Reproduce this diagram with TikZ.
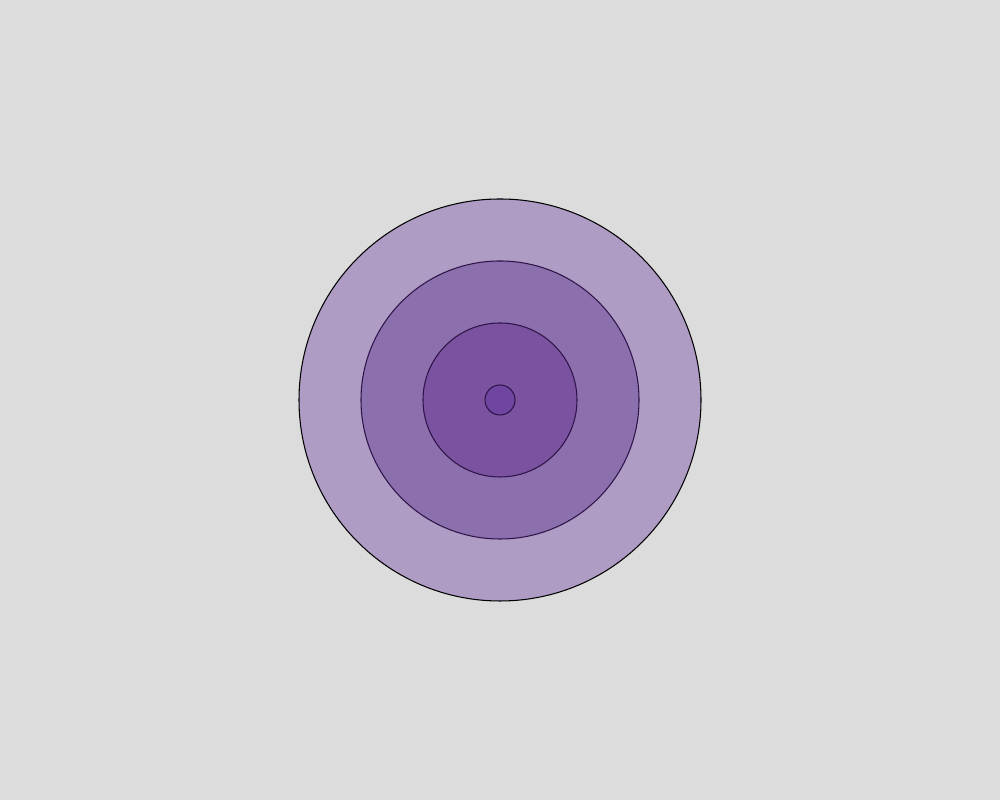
\documentclass[tikz,border=0pt]{standalone}
\usepackage{tikz}
\usepackage{xcolor}
\definecolor{cBack}{HTML}{DCDCDC}
\definecolor{cRingA}{HTML}{AE9CC4}
\definecolor{cRingB}{HTML}{8C70AE}
\definecolor{cRingC}{HTML}{7A52A0}
\definecolor{cRingD}{HTML}{6F45A0}
\definecolor{cEdge}{HTML}{2E1448}

\begin{document}
\begin{tikzpicture}
  % Background and page size
  \fill[cBack] (0,0) rectangle (20,16);
  \useasboundingbox (0,0) rectangle (20,16);

  % Concentric rings, outermost first
  \foreach \i/\r/\col/\edge in {1/4.02/cRingA/black, 2/2.78/cRingB/cEdge, 3/1.54/cRingC/cEdge, 4/0.30/cRingD/cEdge} {
    \node[circle, draw=\edge, fill=\col, minimum size=2*\r cm,
          inner sep=0pt, line width=0.6pt]
      (ring\i) at (10,8) {};
  }
\end{tikzpicture}
\end{document}
